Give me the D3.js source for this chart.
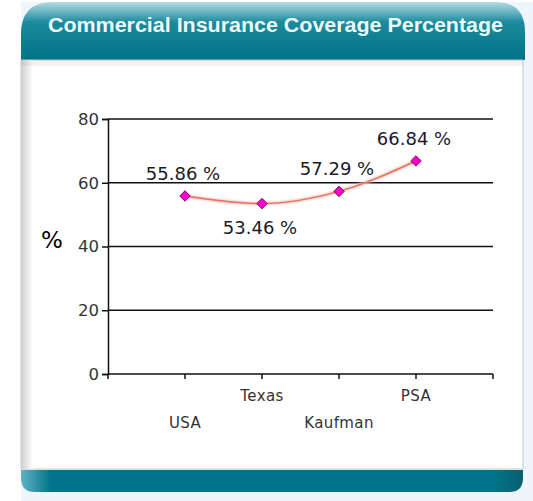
<!DOCTYPE html>
<html>
<head>
<meta charset="utf-8">
<script src="https://cdn.jsdelivr.net/npm/d3@7"></script>
<style>
  body { margin: 0; background: #fff; }
  svg { display: block; }
</style>
</head>
<body>
<script>
var categories = ["USA", "Texas", "Kaufman", "PSA"];
var values = [55.86, 53.46, 57.29, 66.84];
var yTicks = [0, 20, 40, 60, 80];
var title = "Commercial Insurance Coverage Percentage";

var W = 533, H = 501;
var margin = {top: 119, right: 40, bottom: 127, left: 108},
    width = W - margin.left - margin.right,
    height = H - margin.top - margin.bottom;

var svg = d3.select("body").append("svg")
    .attr("width", W)
    .attr("height", H);

var defs = svg.append("defs");
var hg = defs.append("linearGradient").attr("id", "hdr").attr("x1", 0).attr("y1", 0).attr("x2", 0).attr("y2", 1);
hg.append("stop").attr("offset", "0").attr("stop-color", "#b4dbe3");
hg.append("stop").attr("offset", "0.35").attr("stop-color", "#1b8a9c");
hg.append("stop").attr("offset", "1").attr("stop-color", "#007287");
var lg = defs.append("linearGradient").attr("id", "lside").attr("x1", 0).attr("y1", 0).attr("x2", 1).attr("y2", 0);
lg.append("stop").attr("offset", "0").attr("stop-color", "#cfcfcf");
lg.append("stop").attr("offset", "1").attr("stop-color", "#ffffff");
var fg = defs.append("linearGradient").attr("id", "ftr").attr("x1", 0).attr("y1", 0).attr("x2", 1).attr("y2", 0);
fg.append("stop").attr("offset", "0").attr("stop-color", "#5fb3c2");
fg.append("stop").attr("offset", "0.06").attr("stop-color", "#00748a");
fg.append("stop").attr("offset", "0.94").attr("stop-color", "#00748a");
fg.append("stop").attr("offset", "1").attr("stop-color", "#0b5f70");
var sh = defs.append("filter").attr("id", "lshadow").attr("x", "-10%").attr("y", "-50%").attr("width", "120%").attr("height", "200%");
sh.append("feGaussianBlur").attr("stdDeviation", 0.8);

// panel frame
svg.append("rect").attr("x", 21).attr("y", 2).attr("width", 512).attr("height", 499).attr("fill", "#eef5fb");
svg.append("path")
    .attr("d", "M21,60 L21,34 Q21,2 53,2 L495,2 Q525,2 525,32 L525,60 Z")
    .attr("fill", "url(#hdr)");
svg.append("rect").attr("x", 21).attr("y", 60).attr("width", 502).attr("height", 409).attr("fill", "#fff")
    .attr("stroke", "#c9c9c9").attr("stroke-width", 1);
svg.append("rect").attr("x", 21).attr("y", 60).attr("width", 12).attr("height", 409).attr("fill", "url(#lside)");
svg.append("rect").attr("x", 21).attr("y", 60).attr("width", 502).attr("height", 6).attr("fill", "#000").attr("opacity", 0.05);
svg.append("path")
    .attr("d", "M21,470 L523,470 L523,478 Q523,492 509,492 L35,492 Q21,492 21,478 Z")
    .attr("fill", "url(#ftr)");

svg.append("text")
    .attr("x", 48).attr("y", 32)
    .attr("font-family", "Liberation Sans, Arial, sans-serif")
    .attr("font-size", 21).attr("font-weight", "bold")
    .attr("textLength", 455).attr("lengthAdjust", "spacingAndGlyphs")
    .attr("fill", "#eef9fb")
    .text(title);

var g = svg.append("g").attr("transform", "translate(" + margin.left + "," + margin.top + ")");

var x = d3.scalePoint().domain(categories).range([0, width]).padding(1);
var y = d3.scaleLinear().domain([0, 80]).range([height, 0]);

// grid lines
g.selectAll(".grid").data(yTicks.slice(1)).enter().append("line")
    .attr("x1", 0).attr("x2", width)
    .attr("y1", function(d) { return y(d); }).attr("y2", function(d) { return y(d); })
    .attr("stroke", "#111").attr("stroke-width", 1.5);

var yAxis = g.append("g").call(d3.axisLeft(y).tickValues(yTicks).tickSize(6).tickPadding(3));
yAxis.select(".domain").attr("stroke", "#111").attr("stroke-width", 1.5);
yAxis.selectAll(".tick line").attr("stroke", "#111").attr("stroke-width", 1.5);
yAxis.selectAll("text").attr("font-family", "DejaVu Sans, sans-serif")
    .attr("font-size", 16.5).attr("fill", "#333");

// x axis: ticks at the ends and at each point
var step = x.step();
var xt = d3.range(0, categories.length + 2).map(function(i) { return i * step; });
var xg = g.append("g").attr("transform", "translate(0," + height + ")");
xg.append("line").attr("x1", 0).attr("x2", width).attr("stroke", "#111").attr("stroke-width", 1.5);
xg.selectAll(".xt").data(xt).enter().append("line")
    .attr("x1", function(d) { return d; }).attr("x2", function(d) { return d; })
    .attr("y1", 0).attr("y2", 5).attr("stroke", "#111").attr("stroke-width", 1.5);
xg.selectAll(".xl").data(categories).enter().append("text")
    .attr("x", function(d) { return x(d); })
    .attr("y", function(d, i) { return i % 2 ? 27 : 54; })
    .attr("text-anchor", "middle")
    .attr("font-family", "DejaVu Sans, sans-serif")
    .attr("font-size", 15).attr("letter-spacing", 0.4).attr("fill", "#333")
    .text(function(d) { return d; });

svg.append("text")
    .attr("x", 52).attr("y", 248)
    .attr("text-anchor", "middle")
    .attr("font-family", "DejaVu Sans, sans-serif")
    .attr("font-size", 23).attr("fill", "#000")
    .text("%");

var data = categories.map(function(c, i) { return {c: c, v: values[i]}; });
var line = d3.line()
    .x(function(d) { return x(d.c); })
    .y(function(d) { return y(d.v); })
    .curve(d3.curveMonotoneX);

g.append("path").datum(data).attr("d", line)
    .attr("fill", "none").attr("stroke", "#f6c0b8").attr("stroke-width", 3)
    .attr("filter", "url(#lshadow)");
g.append("path").datum(data).attr("d", line)
    .attr("fill", "none").attr("stroke", "#e8705f").attr("stroke-width", 1.5);

g.selectAll(".pt").data(data).enter().append("path")
    .attr("d", d3.symbol().type(d3.symbolDiamond2).size(70))
    .attr("transform", function(d) { return "translate(" + x(d.c) + "," + y(d.v) + ")"; })
    .attr("fill", "#ff00cc").attr("stroke", "#7a1060").attr("stroke-width", 1);

g.selectAll(".lbl").data(data).enter().append("text")
    .attr("x", function(d) { return x(d.c) - 2; })
    .attr("y", function(d, i) { return y(d.v) + (i === 1 ? 30 : -16); })
    .attr("text-anchor", "middle")
    .attr("font-family", "DejaVu Sans, sans-serif")
    .attr("font-size", 18).attr("fill", "#1a1a2a")
    .text(function(d) { return d.v.toFixed(2) + " %"; });
</script>
</body>
</html>
